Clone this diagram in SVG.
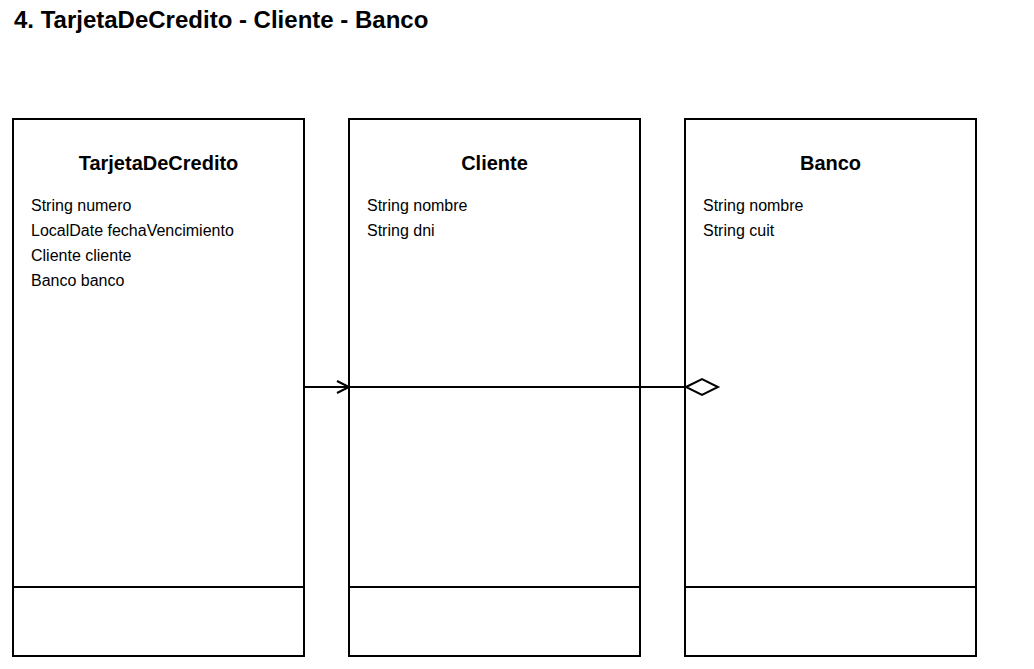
<svg xmlns="http://www.w3.org/2000/svg" width="1034" height="669" viewBox="0 0 1034 669">
<style>
.box{fill:#fff;stroke:#000;stroke-width:2}
.div{stroke:#000;stroke-width:2}
.title{font-family:"Liberation Sans",Arial,sans-serif;font-weight:bold;font-size:24px;fill:#000}
.name{font-family:"Liberation Sans",Arial,sans-serif;font-weight:bold;font-size:20px;fill:#000;text-anchor:middle}
.attr{font-family:"Liberation Sans",Arial,sans-serif;font-size:16px;fill:#000}
.conn{stroke:#000;stroke-width:2;fill:none}
</style>
<rect width="1034" height="669" fill="#fff"/>
<text class="title" x="14" y="28">4. TarjetaDeCredito - Cliente - Banco</text>
<g id="TarjetaDeCredito">
<rect class="box" x="13" y="119" width="291" height="537"/>
<line class="div" x1="13" y1="587" x2="304" y2="587"/>
<text class="name" x="158.5" y="170">TarjetaDeCredito</text>
<text class="attr" x="31" y="211">String numero</text>
<text class="attr" x="31" y="236">LocalDate fechaVencimiento</text>
<text class="attr" x="31" y="261">Cliente cliente</text>
<text class="attr" x="31" y="286">Banco banco</text>
</g>
<g id="Cliente">
<rect class="box" x="349" y="119" width="291" height="537"/>
<line class="div" x1="349" y1="587" x2="640" y2="587"/>
<text class="name" x="494.5" y="170">Cliente</text>
<text class="attr" x="367" y="211">String nombre</text>
<text class="attr" x="367" y="236">String dni</text>
</g>
<g id="Banco">
<rect class="box" x="685" y="119" width="291" height="537"/>
<line class="div" x1="685" y1="587" x2="976" y2="587"/>
<text class="name" x="830.5" y="170">Banco</text>
<text class="attr" x="703" y="211">String nombre</text>
<text class="attr" x="703" y="236">String cuit</text>
</g>
<g id="connectors">
<line class="conn" x1="304" y1="387" x2="349" y2="387"/>
<polyline class="conn" points="337,381 349,387 337,393"/>
<line class="conn" x1="349" y1="387" x2="686" y2="387"/>
<polygon class="conn" points="686,387 702,379 718,387 702,395" style="fill:#fff"/>
</g>
</svg>
